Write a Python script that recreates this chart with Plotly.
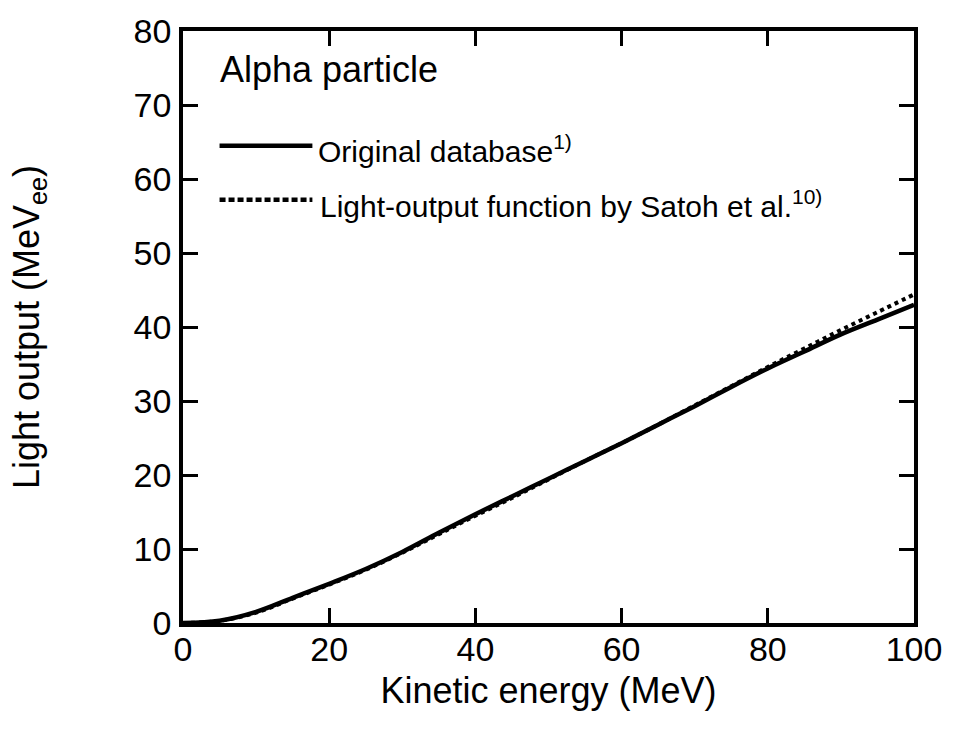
import plotly.graph_objects as go

# Alpha-particle light output versus kinetic energy
energy_mev = [0, 5, 10, 15, 20, 25, 30, 35, 40, 45, 50, 55, 60, 65, 70, 75, 80, 85, 90, 95, 100]
original_db = [0, 0.3, 1.5, 3.4, 5.3, 7.3, 9.6, 12.2, 14.7, 17.1, 19.5, 21.9, 24.3, 26.8, 29.3, 31.9, 34.4, 36.7, 39.0, 41.0, 43.0]
satoh_fn = [0, 0.3, 1.4, 3.3, 5.2, 7.2, 9.5, 12.0, 14.5, 16.9, 19.4, 21.9, 24.3, 26.8, 29.4, 32.0, 34.6, 37.1, 39.6, 42.0, 44.4]

x_ticks = [0, 20, 40, 60, 80, 100]
y_ticks = [0, 10, 20, 30, 40, 50, 60, 70, 80]

FONT = "Liberation Sans, Arial, Helvetica, sans-serif"

fig = go.Figure()
fig.add_trace(go.Scatter(x=energy_mev, y=satoh_fn, mode="lines",
                         line=dict(color="black", width=4, dash="dot", shape="spline"),
                         showlegend=False))
fig.add_trace(go.Scatter(x=energy_mev, y=original_db, mode="lines",
                         line=dict(color="black", width=4.5, shape="spline"),
                         showlegend=False))

axis_common = dict(
    showline=True, linecolor="black", linewidth=3.5, mirror="ticks",
    ticks="inside", ticklen=15, tickwidth=2.5, tickcolor="black",
    showgrid=False, zeroline=False,
    tickfont=dict(family=FONT, size=34, color="black"),
)

fig.update_xaxes(range=[0, 100], tickvals=x_ticks, ticktext=[str(v) for v in x_ticks],
                 title=dict(text="Kinetic energy (MeV)", font=dict(family=FONT, size=36, color="black"), standoff=12),
                 ticklabelstandoff=-7, **axis_common)
fig.update_yaxes(range=[0, 80], tickvals=y_ticks, ticktext=[str(v) for v in y_ticks],
                 title=dict(text="Light output (MeV<sub>ee</sub>)", font=dict(family=FONT, size=36, color="black"), standoff=84),
                 ticklabelstandoff=1, **axis_common)

# Legend samples and labels
fig.add_shape(type="line", xref="paper", yref="paper", x0=0.05, x1=0.177, y0=0.806, y1=0.806,
              line=dict(color="black", width=4.5))
fig.add_shape(type="line", xref="paper", yref="paper", x0=0.05, x1=0.177, y0=0.715, y1=0.715,
              line=dict(color="black", width=4.5, dash="6px,3px"))

fig.add_annotation(xref="paper", yref="paper", x=0.048, y=0.935, xanchor="left", yanchor="middle",
                   text="Alpha particle", showarrow=False, font=dict(family=FONT, size=36, color="black"))
fig.add_annotation(xref="paper", yref="paper", x=0.182, y=0.8, xanchor="left", yanchor="middle",
                   text="Original database<sup>1)</sup>", showarrow=False, font=dict(family=FONT, size=30, color="black"))
fig.add_annotation(xref="paper", yref="paper", x=0.185, y=0.708, xanchor="left", yanchor="middle",
                   text="Light-output function by Satoh et al.<sup>10)</sup>", showarrow=False,
                   font=dict(family=FONT, size=30, color="black"))

fig.update_layout(
    width=954, height=732,
    margin=dict(l=183, r=35, t=31, b=109),
    paper_bgcolor="white", plot_bgcolor="white",
    font=dict(family=FONT, color="black"),
)

fig.write_html("out.html")
